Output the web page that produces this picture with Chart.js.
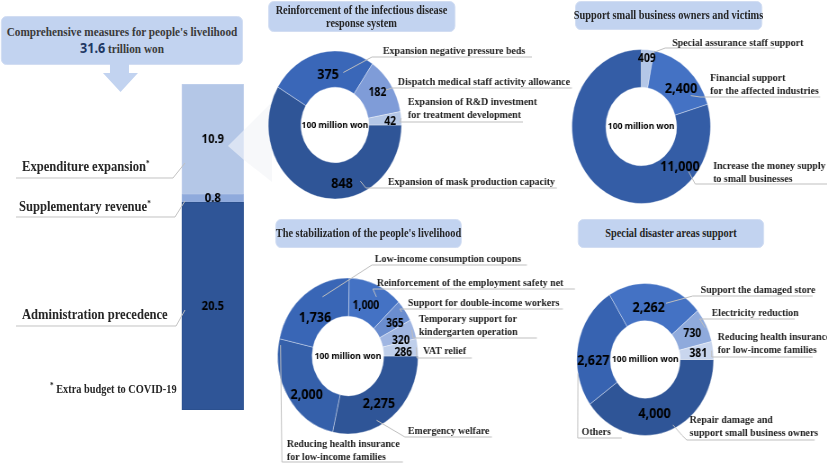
<!DOCTYPE html>
<html>
<head>
<meta charset="utf-8">
<script src="https://cdn.jsdelivr.net/npm/chart.js@4.4.1/dist/chart.umd.min.js"></script>
<style>
html,body{margin:0;padding:0;background:#fff;width:827px;height:470px;overflow:hidden;}
#stage{position:absolute;left:0;top:0;width:919px;height:470px;transform:scaleX(0.9);transform-origin:0 0;overflow:hidden;}
#stage > *{position:absolute;}
.box{background:#C2D3F0;border:1px solid #D2DDF2;border-radius:6px;box-sizing:border-box;display:flex;flex-direction:column;justify-content:center;align-items:center;text-align:center;font-family:"Liberation Serif",serif;font-weight:bold;color:#262626;font-size:11.5px;line-height:13px;white-space:nowrap;}
.lbl{font-family:"Liberation Serif",serif;font-weight:bold;color:#262626;white-space:nowrap;}
.star{font-size:8px;position:relative;top:-5px;}
</style>
</head>
<body>
<div id="stage"></div>
<script>
// ---------------- DATA ----------------
const headlineText = "Comprehensive measures for people's livelihood";
const headlineValue = '31.6';
const headlineUnit = 'trillion won';

const budgetCategories = ['Administration precedence', 'Supplementary revenue', 'Expenditure expansion'];
const budgetValues = [20.5, 0.8, 10.9];
const budgetStarred = [false, true, true];
const footnoteText = 'Extra budget to COVID-19';
const unitLabel = '100 million won';

const diseaseTitle = ['Reinforcement of the infectious disease', 'response system'];
const diseaseLabels = [['Expansion of mask production capacity'], ['Expansion negative pressure beds'], ['Dispatch medical staff activity allowance'], ['Expansion of R&D investment', 'for treatment development']];
const diseaseValues = [848, 375, 182, 42];

const smallBizTitle = ['Support small business owners and victims'];
const smallBizLabels = [['Special assurance staff support'], ['Financial support', 'for the affected industries'], ['Increase the money supply', 'to small businesses']];
const smallBizValues = [409, 2400, 11000];

const livelihoodTitle = ["The stabilization of the people's livelihood"];
const livelihoodLabels = [['Emergency welfare'], ['Reducing health insurance', 'for low-income families'], ['Low-income consumption coupons'], ['Reinforcement of the employment safety net'], ['Support for double-income workers'], ['Temporary support for', 'kindergarten operation'], ['VAT relief']];
const livelihoodValues = [2275, 2000, 1736, 1000, 365, 320, 286];

const disasterTitle = ['Special disaster areas support'];
const disasterLabels = [['Repair damage and', 'support small business owners'], ['Others'], ['Support the damaged store'], ['Electricity reduction'], ['Reducing health insurance', 'for low-income families']];
const disasterValues = [4000, 2627, 2262, 730, 381];

// ---------------- LAYOUT / STYLE ----------------
const S = 0.9; // horizontal condensing of the whole picture
const stage = document.getElementById('stage');
function place(tag, cls, x, y, w, h) {
  const e = document.createElement(tag);
  if (cls) e.className = cls;
  e.style.left = (x / S) + 'px';
  e.style.top = y + 'px';
  if (w != null) e.style.width = (w / S) + 'px';
  if (h != null) e.style.height = h + 'px';
  stage.appendChild(e);
  return e;
}
const sum = a => a.reduce((p, c) => p + c, 0);

// headline box
const hb = place('div', 'box', 1, 16, 242, 49);
hb.style.fontSize = '12.5px';
hb.style.color = '#3a3a3a';
hb.style.lineHeight = '16px';
hb.innerHTML = '<div>' + headlineText + '</div><div><span style="font-family:\'Noto Sans\';font-weight:700;font-size:14px;color:#1F3864">' + headlineValue + '</span> ' + headlineUnit + '</div>';

// stacked bar (left)
const barArea = [182, 84, 62, 326];
const barCanvas = place('canvas', null, barArea[0], barArea[1], barArea[2], barArea[3]);
barCanvas.width = Math.round(barArea[2] / S); barCanvas.height = barArea[3];
barCanvas.style.width = barCanvas.width + 'px'; barCanvas.style.height = barArea[3] + 'px';
const barColors = ['#2F5597', '#8FAADC', '#B4C7E7'];
const barBorders = ['#2B4F8C', '#9DB4E0', '#C0D0EC'];
const barLabelPlugin = {
  id: 'barLabels',
  afterDatasetsDraw(chart) {
    const ctx = chart.ctx;
    ctx.save();
    ctx.font = 'bold 12.5px "Noto Sans"';
    ctx.fillStyle = '#000';
    ctx.textAlign = 'center';
    ctx.textBaseline = 'middle';
    chart.data.datasets.forEach((ds, i) => {
      const bar = chart.getDatasetMeta(i).data[0];
      ctx.fillText(String(ds.data[0]), bar.x, (bar.y + bar.base) / 2);
    });
    ctx.restore();
  }
};
new Chart(barCanvas, {
  type: 'bar',
  data: {
    labels: [''],
    datasets: budgetCategories.map((c, i) => ({
      label: c, data: [budgetValues[i]], backgroundColor: barColors[i], borderColor: barBorders[i],
      borderWidth: 1, borderSkipped: false, barPercentage: 1, categoryPercentage: 1
    }))
  },
  options: {
    responsive: false, animation: false, events: [], layout: { padding: 0 },
    scales: {
      x: { stacked: true, display: false },
      y: { stacked: true, display: false, min: 0, max: sum(budgetValues) }
    },
    plugins: { legend: { display: false }, tooltip: { enabled: false } }
  },
  plugins: [barLabelPlugin]
});

// decorations (arrow, pointer wedge, left leader lines)
const budgetLabelPos = [
  { x: 22, y: 315, line: [[16, 326], [176, 326], [185, 310]] },
  { x: 19, y: 207, line: [[16, 217], [175, 217], [185, 201]] },
  { x: 22, y: 167, line: [[16, 178], [173, 178], [185, 163]] }
];
const pts = arr => arr.map(p => (p[0] / S).toFixed(1) + ',' + p[1]).join(' ');
const svgWrap = place('div', null, 0, 0, 827, 470);
let svg = '<svg width="919" height="470" viewBox="0 0 919 470" xmlns="http://www.w3.org/2000/svg">';
svg += '<polygon points="' + pts([[110, 64], [129, 64], [129, 73], [138, 73], [120.5, 92], [103, 73], [110, 73]]) + '" fill="#C2D3F0"/>';
svg += '<polygon points="' + pts([[228, 146], [244, 130], [244, 160]]) + '" fill="#FFFFFF" fill-opacity="0.5"/>';
svg += '<polygon points="' + pts([[244, 130], [272, 102], [272, 182], [244, 160]]) + '" fill="#EEF0F4" fill-opacity="0.45"/>';
budgetLabelPos.forEach(p => {
  svg += '<polyline points="' + pts(p.line) + '" fill="none" stroke="#BFBFBF" stroke-width="1"/>';
});
svg += '</svg>';
svgWrap.innerHTML = svg;

// left labels
budgetCategories.forEach((c, i) => {
  const p = budgetLabelPos[i];
  const d = place('div', 'lbl', p.x, p.y - 9);
  d.style.fontSize = '14px';
  d.style.lineHeight = '18px';
  d.innerHTML = c + (budgetStarred[i] ? '<span class="star">*</span>' : '');
});
const fn = place('div', 'lbl', 50, 381);
fn.style.fontSize = '11.5px';
fn.style.lineHeight = '16px';
fn.innerHTML = '<span class="star">*</span> ' + footnoteText;

// ---------------- DOUGHNUT PANELS ----------------
const panels = [
  { title: diseaseTitle, labels: diseaseLabels, values: diseaseValues,
    colors: ['#2F5597', '#3A67B8', '#7F9CD8', '#B4C7E7'],
    box: [268, 1, 187, 31], area: [262, 34, 312, 182], center: [335, 125], R: 74, rotation: 90,
    layout: [
      { lt: .39, lr: .80, x: 388, y: 182, uy: 188, u1: 366, u2: 557, t: .3, rho: .85 },
      { lt: .54, lr: .68, x: 383, y: 51, uy: 57, u1: 372, u2: 532, t: .74, rho: .72 },
      { lt: .48, lr: .77, x: 398, y: 82, uy: 88, u1: 392, u2: 572, t: .53, rho: .9 },
      { lt: .73, lr: .83, x: 408, y: 102, uy: 122, u1: 400, u2: 523, t: .5, rho: 1 }
    ] },
  { title: smallBizTitle, labels: smallBizLabels, values: smallBizValues,
    colors: ['#B4C7E7', '#4472C4', '#345DA6'],
    box: [575, 1, 187, 29], area: [565, 32, 262, 183], center: [641, 126.5], R: 77, rotation: 0,
    layout: [
      { lt: .5, lr: .88, x: 672, y: 43, uy: 48, u1: 665, u2: 775, t: .9, rho: .97 },
      { lt: .63, lr: .75, x: 710, y: 78, uy: 97, u1: 700, u2: 820, t: .8, rho: .82 },
      { lt: .21, lr: .77, x: 713, y: 166, uy: 184, u1: 695, u2: 827, t: .2, rho: .9 }
    ] },
  { title: livelihoodTitle, labels: livelihoodLabels, values: livelihoodValues,
    colors: ['#2F5597', '#3560AA', '#3966B6', '#4472C4', '#6A8DCF', '#A0B6E2', '#BFCFEB'],
    box: [275, 219, 187, 29], area: [262, 250, 313, 220], center: [348, 356], R: 78, rotation: 90,
    layout: [
      { lt: .53, lr: .76, x: 408, y: 431, uy: 437, u1: 405, u2: 492, t: .62, rho: .92 },
      { lt: .41, lr: .77, x: 287, y: 444, uy: 462, u1: 282, u2: 403, t: .95, rho: .97 },
      { lt: .43, lr: .68, x: 375, y: 259, uy: 265, u1: 372, u2: 527, t: .66, rho: .84 },
      { lt: .46, lr: .69, x: 377, y: 283, uy: 289, u1: 373, u2: 575, t: .6, rho: .86 },
      { lt: .71, lr: .79, x: 408, y: 303, uy: 309, u1: 400, u2: 563, t: .45, rho: .95 },
      { lt: .875, lr: .78, x: 419, y: 319, uy: 338, u1: 413, u2: 537, t: .5, rho: .97 },
      { lt: .76, lr: .79, x: 423, y: 351, uy: 358, u1: 417, u2: 472, t: .5, rho: .98 }
    ] },
  { title: disasterTitle, labels: disasterLabels, values: disasterValues,
    colors: ['#2F5597', '#3763B1', '#4472C4', '#8FAADC', '#C9D6EE'],
    box: [578, 219, 186, 29], area: [570, 250, 257, 220], center: [645.5, 359.5], R: 76, rotation: 90,
    layout: [
      { lt: .55, lr: .73, x: 690, y: 420, uy: 440, u1: 687, u2: 815, t: .45, rho: .95, ex: 682, ey: 435 },
      { lt: .37, lr: .76, x: 582, y: 432, uy: 438, u1: 578, u2: 622, t: .27, rho: 1 },
      { lt: .44, lr: .68, x: 701, y: 290, uy: 296, u1: 693, u2: 813, t: .66, rho: .8 },
      { lt: .51, lr: .77, x: 712, y: 313, uy: 319, u1: 700, u2: 795, t: .55, rho: .97 },
      { lt: .56, lr: .78, x: 718, y: 337, uy: 357, u1: 712, u2: 813, t: .5, rho: .98 }
    ] }
];

const calloutPlugin = {
  id: 'callouts',
  afterDatasetsDraw(chart) {
    const panel = chart.$panel;
    const ctx = chart.ctx;
    const meta = chart.getDatasetMeta(0);
    const toX = px => (px - panel.area[0]) / S;
    const toY = py => py - panel.area[1];
    const total = sum(panel.values);
    ctx.save();
    // leader lines
    ctx.strokeStyle = '#BFBFBF';
    ctx.lineWidth = 1;
    meta.data.forEach((arc, i) => {
      const c = panel.layout[i];
      const p = arc.getProps(['x', 'y', 'startAngle', 'endAngle', 'outerRadius'], true);
      const a = p.startAngle + c.t * (p.endAngle - p.startAngle);
      ctx.beginPath();
      ctx.moveTo(p.x + Math.cos(a) * p.outerRadius * c.rho, p.y + Math.sin(a) * p.outerRadius * c.rho);
      if (c.ex != null) ctx.lineTo(toX(c.ex), toY(c.ey));
      ctx.lineTo(toX(c.u1), toY(c.uy));
      ctx.lineTo(toX(c.u2), toY(c.uy));
      ctx.stroke();
    });
    // value labels
    ctx.fillStyle = '#000';
    ctx.textAlign = 'center';
    ctx.textBaseline = 'middle';
    meta.data.forEach((arc, i) => {
      const c = panel.layout[i];
      const p = arc.getProps(['x', 'y', 'startAngle', 'endAngle', 'outerRadius'], true);
      const a = p.startAngle + c.lt * (p.endAngle - p.startAngle);
      const r = p.outerRadius * c.lr;
      const v = panel.values[i];
      ctx.font = 'bold ' + (v / total < 0.13 ? 11.5 : 14) + 'px "Noto Sans"';
      ctx.fillText(v.toLocaleString('en-US'), p.x + Math.cos(a) * r, p.y + Math.sin(a) * r);
    });
    // unit in the hole
    ctx.font = 'bold 9.5px "Noto Sans"';
    ctx.fillText(unitLabel, meta.data[0].x, meta.data[0].y);
    // category texts
    ctx.fillStyle = '#222';
    ctx.textAlign = 'left';
    ctx.font = 'bold 11px "Liberation Serif"';
    panel.labels.forEach((lines, i) => {
      const c = panel.layout[i];
      lines.forEach((ln, k) => ctx.fillText(ln, toX(c.x), toY(c.y + k * 13)));
    });
    ctx.restore();
  }
};

panels.forEach(panel => {
  // title box
  const tb = place('div', 'box', panel.box[0], panel.box[1], panel.box[2], panel.box[3]);
  tb.innerHTML = panel.title.map(t => '<div>' + t + '</div>').join('');
  // canvas
  const [ax, ay, aw, ah] = panel.area;
  const cv = place('canvas', null, ax, ay);
  const W = Math.round(aw / S), H = ah;
  cv.width = W; cv.height = H;
  cv.style.width = W + 'px'; cv.style.height = H + 'px';
  const cxl = (panel.center[0] - ax) / S, cyl = panel.center[1] - ay;
  const m = panel.R + 5;
  new Chart(cv, {
    type: 'doughnut',
    data: {
      labels: panel.labels.map(l => l.join(' ')),
      datasets: [{ data: panel.values, backgroundColor: panel.colors, borderColor: 'rgba(255,255,255,0.35)', borderWidth: 1 }]
    },
    options: {
      responsive: false, animation: false, events: [],
      rotation: panel.rotation, radius: panel.R, cutout: '51%',
      layout: { padding: { left: cxl - m, right: W - (cxl + m), top: cyl - m, bottom: H - (cyl + m) } },
      plugins: { legend: { display: false }, tooltip: { enabled: false } }
    },
    plugins: [{ id: 'attach', beforeInit(ch) { ch.$panel = panel; } }, calloutPlugin]
  });
});
</script>
</body>
</html>
